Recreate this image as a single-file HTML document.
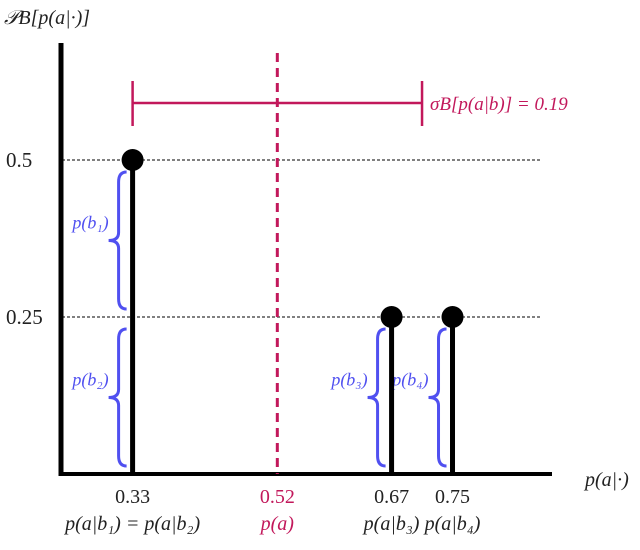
<!DOCTYPE html>
<html><head><meta charset="utf-8"><style>
html,body{margin:0;padding:0;background:#fff}
svg{display:block}
text{font-family:"Liberation Serif",serif}
</style></head><body>
<svg id="chart" width="640" height="550" viewBox="0 0 640 550" xmlns="http://www.w3.org/2000/svg"></svg>
<script>
const categories = ["b1", "b2", "b3", "b4"];
const condValues = [0.33, 0.33, 0.67, 0.75];
const probValues = [0.25, 0.25, 0.25, 0.25];
const stemValues = [0.33, 0.67, 0.75];
const stemHeights = [0.5, 0.25, 0.25];
const stemLabels = ["p(a|b\u2081) = p(a|b\u2082)", "p(a|b\u2083)", "p(a|b\u2084)"];
const yTicks = [0.25, 0.5];
const yTickLabels = ["0.25", "0.5"];
const meanValue = [0.52];
const sigmaValue = [0.19];

const NS = "http://www.w3.org/2000/svg";
const svg = document.getElementById("chart");
function x(v){ return 313.5 + (v - 0.5675) * 761.7; }
function y(v){ return 474 - v * 628; }
function el(tag, attrs, parent){
  const e = document.createElementNS(NS, tag);
  for (const k in attrs) e.setAttribute(k, attrs[k]);
  (parent || svg).appendChild(e);
  return e;
}
const red = "#c2185b", blue = "#5050f0";

yTicks.forEach((t, i) => {
  const g = el("line", {x1: 62, x2: 540, y1: y(t), y2: y(t), stroke: "#000", "stroke-width": 1, "stroke-dasharray": "3,2"});
  
  
  const tl = el("text", {x: 6, y: y(t) + 7, "font-size": 21, fill: "#222"});
  tl.textContent = yTickLabels[i];
  
  
});

const ya = el("line", {x1: 61, x2: 61, y1: 43, y2: 476, stroke: "#000", "stroke-width": 5});


const xa = el("line", {x1: 59, x2: 552, y1: 474, y2: 474, stroke: "#000", "stroke-width": 4});



const yt = el("text", {x: 4, y: 24, "font-size": 20, "font-style": "italic", fill: "#222"});
yt.textContent = "\u{1D4AB}B[p(a|\u00B7)]";


const xt = el("text", {x: 585, y: 486, "font-size": 20, "font-style": "italic", fill: "#222"});
xt.textContent = "p(a|\u00B7)";



const mx = x(meanValue[0]);
const ml = el("line", {x1: mx, x2: mx, y1: 53, y2: 474, stroke: red, "stroke-width": 3, "stroke-dasharray": "9,6"});


const mt1 = el("text", {x: mx, y: 503, "font-size": 20, fill: red, "text-anchor": "middle"});
mt1.textContent = meanValue[0].toFixed(2);


const mt2 = el("text", {x: mx, y: 530, "font-size": 20, fill: red, "text-anchor": "middle", "font-style": "italic"});
mt2.textContent = "p(a)";



const ex1 = x(meanValue[0] - sigmaValue[0]), ex2 = x(meanValue[0] + sigmaValue[0]);
const eb = el("path", {d: `M${ex1},81 V126 M${ex1},103 H${ex2} M${ex2},81 V126`, stroke: red, "stroke-width": 2.5, fill: "none"});


const st = el("text", {x: 430, y: 110, "font-size": 19, fill: red, "font-style": "italic"});
st.textContent = "\u03C3B[p(a|b)] = " + sigmaValue[0].toFixed(2);



// braces: stack so the first category of each stem is on top
let stackBase = {};
const subs = ["\u2081","\u2082","\u2083","\u2084"];
for (let i = categories.length - 1; i >= 0; i--) {
  const c = categories[i];
  const cv = condValues[i];
  const base = stackBase[cv] || 0;
  const y1 = y(base + probValues[i]) + 12, y2 = y(base) - 8;
  stackBase[cv] = base + probValues[i];
  const bx = x(cv) - 14, ym = (y1 + y2) / 2;
  const d = `M${bx+8},${y1} Q${bx},${y1} ${bx},${y1+10} L${bx},${ym-8} Q${bx},${ym} ${bx-10},${ym} Q${bx},${ym} ${bx},${ym+8} L${bx},${y2-10} Q${bx},${y2} ${bx+8},${y2}`;
  const br = el("path", {d: d, stroke: blue, "stroke-width": 3, fill: "none"});
  
  
  const bt = el("text", {x: bx - 10, y: ym - 12, "font-size": 18, fill: blue, "font-style": "italic", "text-anchor": "end"});
  bt.textContent = "p(b" + subs[i] + ")";
  
  
}

stemValues.forEach((v, i) => {
  const sx = x(v);
  const s = el("line", {x1: sx, x2: sx, y1: y(stemHeights[i]), y2: 474, stroke: "#000", "stroke-width": 5});
  
  
  const d = el("circle", {cx: sx, cy: y(stemHeights[i]), r: 11, fill: "#000"});
  
  
  const t1 = el("text", {x: sx, y: 503, "font-size": 20, fill: "#222", "text-anchor": "middle"});
  t1.textContent = v.toFixed(2);
  
  
  const t2 = el("text", {x: sx, y: 530, "font-size": 20, fill: "#222", "text-anchor": "middle", "font-style": "italic"});
  t2.textContent = stemLabels[i];
  
  
});
</script>
</body></html>
